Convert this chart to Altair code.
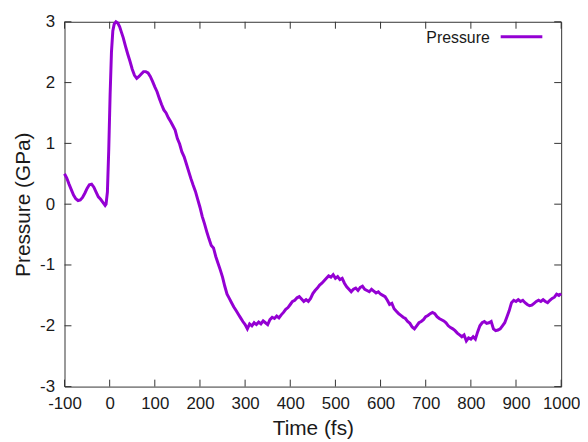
import altair as alt
import pandas as pd

time_fs = [-100, -95, -90, -85, -80, -75, -70, -65, -60, -55, -50, -45, -40, -35, -30, -25, -20, -15, -10,
           -8, -5, -2, 1, 4, 7, 10, 14, 18, 22, 26, 30, 35, 40, 45, 50, 55, 60, 65, 70, 75, 80, 85, 90, 95,
           100, 105, 110, 115, 120, 125, 130, 135, 140, 145, 150, 155, 160, 165, 170, 175, 180, 185, 190, 195,
           200, 205, 210, 215, 220, 225, 230, 235, 240, 245, 250, 255, 260, 265, 270, 275, 280, 285, 290, 295,
           300, 305, 310, 315, 320, 325, 330, 335, 340, 345, 350, 355, 360, 365, 370, 375, 380, 385, 390, 395,
           400, 405, 410, 415, 420, 425, 430, 435, 440, 445, 450, 455, 460, 465, 470, 475, 480, 485, 490, 495,
           500, 505, 510, 515, 520, 525, 530, 535, 540, 545, 550, 555, 560, 565, 570, 575, 580, 585, 590, 595,
           600, 605, 610, 615, 620, 625, 630, 635, 640, 645, 650, 655, 660, 665, 670, 675, 680, 685, 690, 695,
           700, 705, 710, 715, 720, 725, 730, 735, 740, 745, 750, 755, 760, 765, 770, 775, 780, 785, 790, 795,
           800, 805, 810, 815, 820, 825, 830, 835, 840, 845, 850, 855, 860, 865, 870, 875, 880, 885, 890, 895,
           900, 905, 910, 915, 920, 925, 930, 935, 940, 945, 950, 955, 960, 965, 970, 975, 980, 985, 990, 995,
           1000]

pressure_gpa = [0.50, 0.43, 0.33, 0.24, 0.15, 0.09, 0.06, 0.07, 0.11, 0.18, 0.26, 0.32, 0.33, 0.28, 0.20, 0.12, 0.08, 0.03, -0.02,
                0.00, 0.20, 0.90, 1.80, 2.50, 2.85, 2.96, 3.00, 2.98, 2.92, 2.83, 2.74, 2.60, 2.47, 2.35, 2.22, 2.12, 2.07, 2.10, 2.14, 2.18, 2.18, 2.16, 2.10, 2.02,
                1.93, 1.85, 1.74, 1.64, 1.55, 1.50, 1.42, 1.36, 1.29, 1.22, 1.08, 0.99, 0.86, 0.78, 0.66, 0.54, 0.42, 0.31, 0.21, 0.08,
                -0.05, -0.20, -0.32, -0.45, -0.57, -0.68, -0.72, -0.86, -0.97, -1.08, -1.20, -1.35, -1.48, -1.55, -1.62, -1.69, -1.75, -1.81, -1.87, -1.93,
                -1.98, -2.05, -1.97, -2.00, -1.95, -1.98, -1.94, -1.97, -1.92, -1.95, -1.98, -1.90, -1.86, -1.88, -1.84, -1.87, -1.82, -1.78, -1.73, -1.70,
                -1.65, -1.60, -1.58, -1.54, -1.52, -1.56, -1.60, -1.57, -1.60, -1.55, -1.47, -1.42, -1.38, -1.33, -1.30, -1.26, -1.22, -1.18, -1.20, -1.16,
                -1.22, -1.19, -1.24, -1.22, -1.30, -1.36, -1.40, -1.44, -1.40, -1.38, -1.42, -1.37, -1.35, -1.40, -1.42, -1.44, -1.40, -1.43, -1.46, -1.44,
                -1.48, -1.50, -1.52, -1.58, -1.65, -1.63, -1.72, -1.76, -1.80, -1.83, -1.86, -1.88, -1.93, -1.96, -2.02, -2.05, -2.00, -1.95, -1.93, -1.90,
                -1.85, -1.83, -1.80, -1.78, -1.80, -1.85, -1.88, -1.90, -1.92, -1.95, -2.00, -2.03, -2.05, -2.08, -2.12, -2.15, -2.18, -2.15, -2.25, -2.20,
                -2.22, -2.18, -2.22, -2.10, -2.00, -1.95, -1.93, -1.96, -1.95, -1.93, -2.05, -2.08, -2.07, -2.05, -2.00, -1.95, -1.85, -1.75, -1.62, -1.58,
                -1.60, -1.57, -1.60, -1.58, -1.62, -1.65, -1.67, -1.66, -1.63, -1.60, -1.58, -1.60, -1.57, -1.60, -1.62, -1.58, -1.55, -1.53, -1.48, -1.50,
                -1.47]

x_ticks = [-100, 0, 100, 200, 300, 400, 500, 600, 700, 800, 900, 1000]
y_ticks = [-3, -2, -1, 0, 1, 2, 3]
series_name = ["Pressure"]

FONT = "Liberation Sans"
COLOR = "#9400D3"
TXT = "#1a1a1a"
W, H = 501, 368
TL = 7

df = pd.DataFrame({"t": time_fs, "p": pressure_gpa})
xt = pd.DataFrame({"t": x_ticks})
yt = pd.DataFrame({"p": y_ticks})
leg = pd.DataFrame({"name": series_name})

xscale = alt.Scale(domain=[-100, 1000], nice=False, zero=False)
yscale = alt.Scale(domain=[-3, 3], nice=False, zero=False)
xaxis = alt.Axis(values=x_ticks, labelExpr="toString(datum.value)", labelPadding=9,
                 titleY=48, titleBaseline="alphabetic")
yaxis = alt.Axis(values=y_ticks, labelExpr="toString(datum.value)", labelPadding=10,
                 titleX=-35, titleBaseline="alphabetic")

X = alt.X("t:Q", scale=xscale, title="Time (fs)", axis=xaxis)
Y = alt.Y("p:Q", scale=yscale, title="Pressure (GPa)", axis=yaxis)

line = alt.Chart(df).mark_line(color=COLOR, strokeWidth=3).encode(x=X, y=Y)

rule_common = dict(color="#333333", strokeWidth=1)
ytick_left = alt.Chart(yt).mark_rule(**rule_common).encode(
    y=Y, x=alt.value(0), x2=alt.value(TL))
ytick_right = alt.Chart(yt).mark_rule(**rule_common).encode(
    y=Y, x=alt.value(W - TL), x2=alt.value(W))
xtick_bottom = alt.Chart(xt).mark_rule(**rule_common).encode(
    x=X, y=alt.value(H - TL), y2=alt.value(H))
xtick_top = alt.Chart(xt).mark_rule(**rule_common).encode(
    x=X, y=alt.value(0), y2=alt.value(TL))

leg_text = alt.Chart(leg).mark_text(align="right", baseline="alphabetic", font=FONT,
                                    fontSize=16, color=TXT).encode(
    text="name:N", x=alt.value(429), y=alt.value(21.5))
leg_line = alt.Chart(leg).mark_rule(color=COLOR, strokeWidth=3).encode(
    x=alt.value(440), x2=alt.value(482), y=alt.value(15))

chart = alt.layer(line, ytick_left, ytick_right, xtick_bottom, xtick_top, leg_text, leg_line).properties(
    width=W, height=H,
    autosize=alt.AutoSizeParams(type="none"),
    padding={"left": 57, "top": 12, "right": 19, "bottom": 54},
).configure_view(
    stroke="#333333", strokeWidth=1
).configure_axis(
    domain=False, ticks=False, grid=False,
    labelFont=FONT, labelFontSize=17, labelColor=TXT,
    titleFont=FONT, titleFontSize=21, titleFontWeight="normal", titleColor=TXT,
    labelFlush=False, labelOverlap=False,
)

chart.save("out.html", embed_options={"renderer": "svg", "actions": False})
